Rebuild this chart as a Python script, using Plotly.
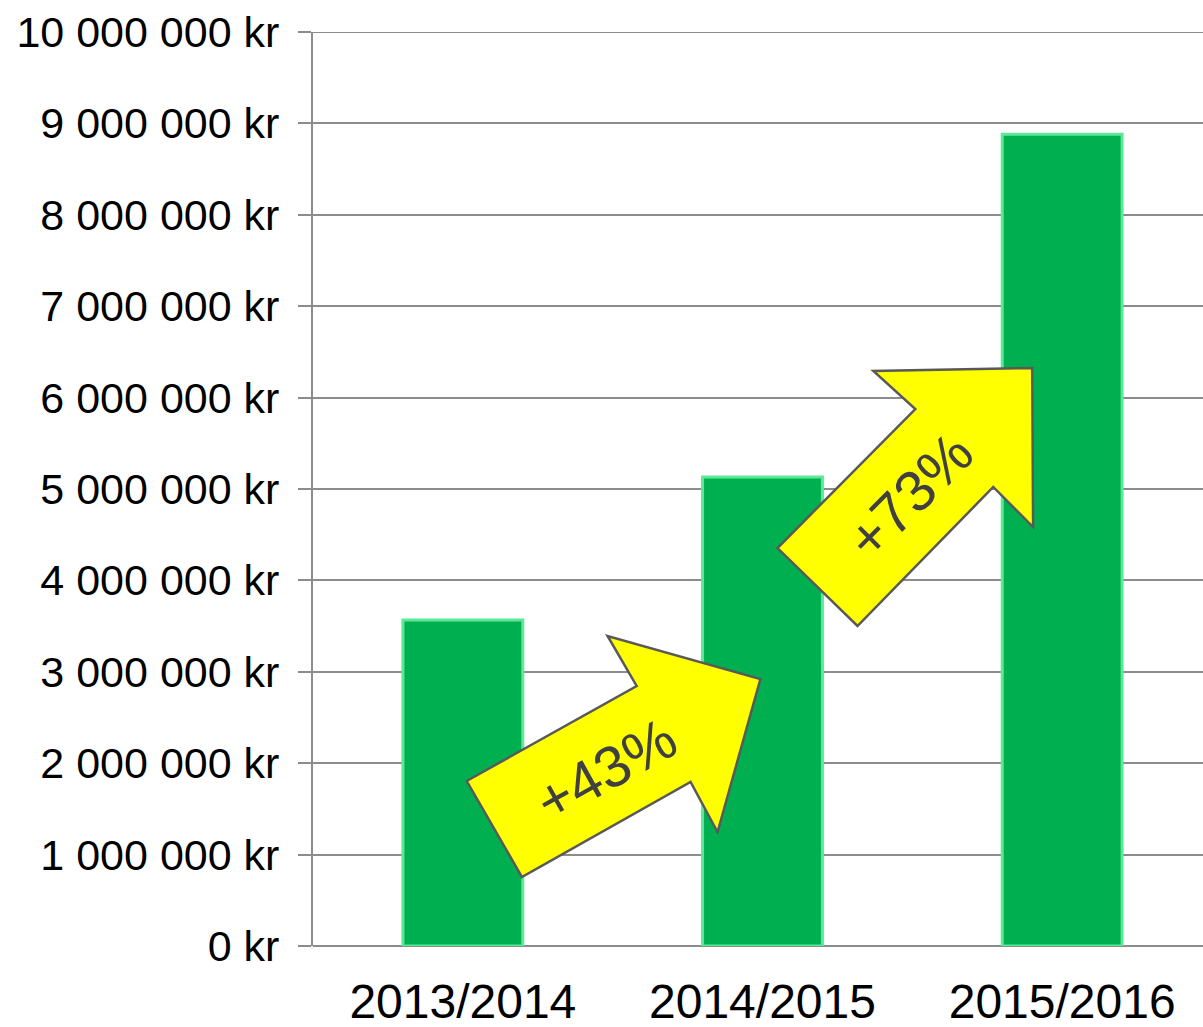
import plotly.graph_objects as go

categories = ["2013/2014", "2014/2015", "2015/2016"]
values = [3567000, 5130000, 8880000]
y_ticks = [0, 1e6, 2e6, 3e6, 4e6, 5e6, 6e6, 7e6, 8e6, 9e6, 10e6]
y_tick_labels = ["0 kr", "1 000 000 kr", "2 000 000 kr", "3 000 000 kr", "4 000 000 kr",
                 "5 000 000 kr", "6 000 000 kr", "7 000 000 kr", "8 000 000 kr",
                 "9 000 000 kr", "10 000 000 kr"]
growth_labels = ["+43%", "+73%"]

# arrow outlines in data units (x: category index, y: millions)
arrow1 = [(0.013, 1.805), (0.58, 2.845), (0.483, 3.392), (0.993, 2.921),
          (0.85, 1.247), (0.76, 1.794), (0.197, 0.755)]
arrow2 = [(1.05, 4.354), (1.51, 5.875), (1.37, 6.291), (1.90, 6.324),
          (1.903, 4.584), (1.77, 5.022), (1.317, 3.501)]
label_pos = [(0.477, 1.926, -29), (1.49, 4.934, -45)]

x_idx = list(range(len(categories)))
GRID = "#8C8C8C"

fig = go.Figure()
fig.add_trace(go.Bar(
    x=x_idx, y=values, width=0.4,
    marker=dict(color="#00B050", line=dict(color="#5CE896", width=3)),
    hoverinfo="skip",
))

def path_of(pts):
    return "M " + " L ".join(f"{x},{y*1e6}" for x, y in pts) + " Z"

# top gridline (at the range edge)
fig.add_shape(type="line", xref="paper", yref="y", x0=0, x1=1, y0=y_ticks[-1], y1=y_ticks[-1],
              line=dict(color=GRID, width=2), layer="below")

for pts in (arrow1, arrow2):
    fig.add_shape(type="path", path=path_of(pts), xref="x", yref="y",
                  fillcolor="#FFFF00", line=dict(color="#595959", width=2.5),
                  layer="above")

for (x, y, ang), txt in zip(label_pos, growth_labels):
    fig.add_annotation(x=x, y=y*1e6, xref="x", yref="y", text=txt, showarrow=False,
                       textangle=ang, font=dict(family="Liberation Sans, Arial", size=58, color="#404040"))

fig.update_layout(
    width=1203, height=1027,
    margin=dict(l=313, r=0, t=32, b=81),
    plot_bgcolor="white", paper_bgcolor="white",
    showlegend=False,
    font=dict(family="Liberation Sans, Arial", color="black"),
    xaxis=dict(range=[-0.5, 2.47], tickvals=x_idx, ticktext=categories,
               showgrid=False, zeroline=False, showline=False, automargin=False,
               tickfont=dict(size=48), ticks="", ticklabelstandoff=23),
    yaxis=dict(range=[0, 10.0e6], tickvals=y_ticks, ticktext=y_tick_labels,
               showgrid=True, gridcolor=GRID, gridwidth=2, automargin=False,
               zeroline=True, zerolinecolor=GRID, zerolinewidth=2,
               showline=True, linecolor=GRID, linewidth=2,
               ticks="outside", ticklen=13, tickcolor=GRID, tickwidth=2,
               tickfont=dict(size=43), ticklabelstandoff=10),
)

fig.write_html("out.html", config={"displayModeBar": False},
               post_script="document.body.style.margin='0';document.body.style.overflow='hidden';")
